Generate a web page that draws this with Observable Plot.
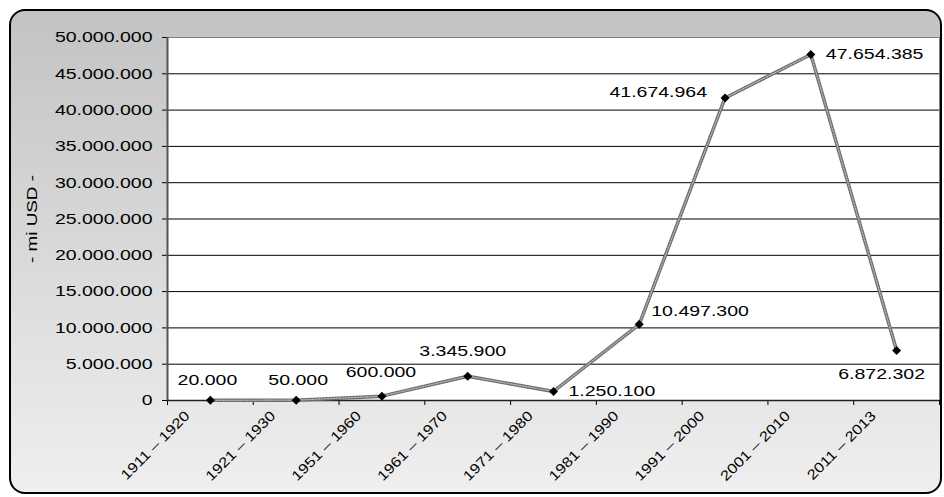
<!DOCTYPE html>
<html><head><meta charset="utf-8">
<script src="https://cdn.jsdelivr.net/npm/d3@7"></script>
<script src="https://cdn.jsdelivr.net/npm/@observablehq/plot@0.6"></script>
<style>
html,body{margin:0;padding:0;background:#fff;}
#wrap{position:relative;width:944px;height:497px;overflow:hidden;font-family:"Liberation Sans",Arial,sans-serif;}
#bg{position:absolute;left:9px;top:9px;width:929px;height:481px;border:2.5px solid #000;border-radius:16px;background:linear-gradient(to bottom,#c3c3c3 0%,#efefef 100%);}
#chart{position:absolute;left:0;top:0;}
</style></head><body>
<div id="wrap"><div id="bg"></div><div id="chart"></div></div>
<script>
// ---- data ----
const categories = ["1911 – 1920", "1921 – 1930", "1951 – 1960", "1961 – 1970", "1971 – 1980", "1981 – 1990", "1991 – 2000", "2001 – 2010", "2011 – 2013"];
const values = [20000, 50000, 600000, 3345900, 1250100, 10497300, 41674964, 47654385, 6872302];
const yTicks = [0, 5000000, 10000000, 15000000, 20000000, 25000000, 30000000, 35000000, 40000000, 45000000, 50000000];
const yTitle = "- mi USD -";

// ---- helpers ----
const loc = d3.formatLocale({decimal: ",", thousands: ".", grouping: [3], currency: ["", ""]});
const fmt = loc.format(",d");
const data = categories.map((c, i) => ({i, cat: c, value: values[i]}));
const n = categories.length;
const boundaries = d3.range(n + 1).map(k => k - 0.5);

const diamond = {draw(ctx, size) {
  const h = Math.sqrt(size / 2);
  ctx.moveTo(0, -h); ctx.lineTo(h, 0); ctx.lineTo(0, h); ctx.lineTo(-h, 0); ctx.closePath();
}};

// label placement per point (style only)
const placement = [
  {dx: -3, dy: -20, a: "middle"},
  {dx: 2, dy: -20, a: "middle"},
  {dx: -1, dy: -23.5, a: "middle"},
  {dx: -5, dy: -25.5, a: "middle"},
  {dx: 15, dy: 0, a: "start"},
  {dx: 12, dy: -13, a: "start"},
  {dx: -18, dy: -6, a: "end"},
  {dx: 15, dy: 0, a: "start"},
  {dx: -15, dy: 23.5, a: "middle"}
];
const labelMarks = data.map((d, k) => Plot.text([d], {
  x: "i", y: "value", text: v => fmt(v.value),
  dx: placement[k].dx, dy: placement[k].dy, textAnchor: placement[k].a,
  fontSize: 15, fill: "#000"
}));

const plot = Plot.plot({
  width: 944, height: 497,
  marginLeft: 167, marginRight: 5, marginTop: 37, marginBottom: 97,
  style: {background: "transparent", fontFamily: "'Liberation Sans', Arial, sans-serif", fontSize: "15px", color: "#000"},
  x: {type: "linear", domain: [-0.5, n - 0.5], axis: null},
  y: {domain: [0, 50000000], axis: null},
  marks: [
    Plot.frame({fill: "white", stroke: "#808080"}),
    Plot.gridY(yTicks.filter(t => t > 0 && t < 50000000), {stroke: "#000", strokeOpacity: 1, strokeWidth: 1}),
    Plot.axisY(yTicks, {label: null, tickFormat: fmt, tickSize: 5, tickPadding: 10, fontSize: 15}),
    Plot.axisX(boundaries, {label: null, tickFormat: () => "", tickSize: 5}),
    Plot.axisX(d3.range(n), {label: null, tickFormat: i => categories[i], tickSize: 0, tickPadding: 0, tickRotate: -45, fontSize: 14, dx: -23, dy: 13}),
    Plot.ruleX([-0.5], {stroke: "#555", strokeWidth: 2}),
    Plot.ruleY([0], {stroke: "#222", strokeWidth: 1.5}),
    Plot.line(data, {x: "i", y: "value", stroke: "#6e6e6e", strokeWidth: 3.5}),
    Plot.line(data, {x: "i", y: "value", stroke: "#b8b8b8", strokeWidth: 1.2, strokeDasharray: "1.5,1.5"}),
    Plot.dot(data, {x: "i", y: "value", symbol: diamond, r: 3.6, fill: "#000", stroke: "none"}),
    ...labelMarks,
    Plot.text([yTitle], {frameAnchor: "left", textAnchor: "middle", rotate: -90, dx: -135, fontSize: 14.5, fill: "#000", ariaLabel: "y-title"})
  ]
});
document.getElementById("chart").append(plot);

// widen glyphs to match the reference's horizontally stretched type
plot.querySelectorAll("text").forEach(t => {
  const g = t.closest("g[aria-label]");
  const lab = g ? g.getAttribute("aria-label") : "";
  if (lab === "y-title") return;
  const f = lab === "x-axis tick label" ? 1.18 : 1.3;
  const L = t.getComputedTextLength();
  if (L > 0) {
    t.setAttribute("textLength", (L * f).toFixed(1));
    t.setAttribute("lengthAdjust", "spacingAndGlyphs");
  }
});
</script>
</body></html>
